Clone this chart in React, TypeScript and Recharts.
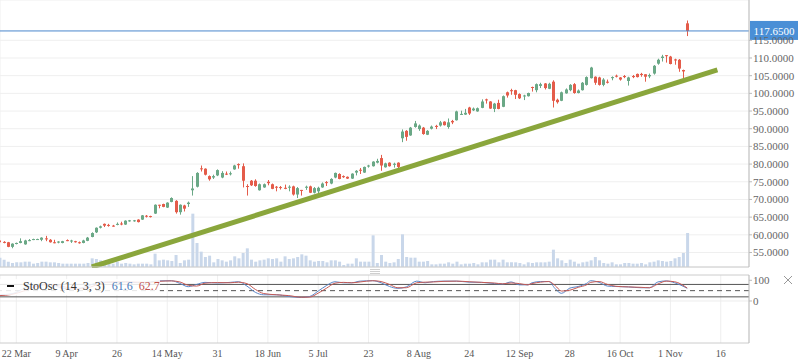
import React from 'react';
import { ComposedChart, Bar, Line, XAxis, YAxis, CartesianGrid, ReferenceLine } from 'recharts';

const tickIdx = [4, 16, 28, 40, 52, 64, 76, 88, 100, 112, 124, 136, 148, 160, 172];
const tickLabels = ['22 Mar', '9 Apr', '26', '14 May', '31', '18 Jun', '5 Jul', '23', '8 Aug', '24', '12 Sep', '28', '16 Oct', '1 Nov', '16'];

const opens = [58.4,58.0,57.9,56.6,57.4,57.7,57.3,58.3,58.6,58.7, 58.6,59.0,58.6,57.9,57.8,57.7,58.5,58.1,58.2,57.9, 57.7,58.3,59.4,60.7,62.0,63.1,62.8,62.6,62.8,63.2, 62.9,63.8,63.9,64.3,64.3,65.4,65.3,66.0,68.5,68.7, 67.7,69.3,69.6,66.4,68.3,68.7,72.6,73.6,78.8,78.7, 76.6,76.2,76.8,76.2,77.3,77.2,78.5,80.0,79.4,73.8, 75.3,75.3,72.6,73.4,75.0,74.3,73.6,73.5,73.3,73.4, 73.7,71.4,72.7,73.3,73.7,71.9,72.3,73.4,74.9,74.5, 76.2,77.2,76.6,76.4,75.9,77.6,78.4,77.6,79.3,79.4, 80.4,81.7,79.1,80.4,79.8,80.4,87.3,89.4,88.1,90.5, 89.9,90.3,88.3,90.0,90.8,90.9,92.0,90.5,92.2,92.4, 93.9,94.0,96.0,95.2,94.9,95.9,98.3,97.7,95.6,97.3, 96.2,100.3,100.9,100.9,99.8,99.2,99.2,101.8,100.9,102.1, 102.8,101.3,103.3,98.2,97.9,100.0,100.9,102.6,100.1,100.9, 102.4,104.3,104.7,104.5,102.4,103.3,104.3,105.0,104.5,104.9, 103.5,104.9,105.5,105.5,105.4,104.8,105.6,108.4,110.0,110.8, 110.4,109.6,109.5,106.6,119.8];
const highs = [58.5,58.2,58.0,57.6,57.8,59.0,58.6,58.8,58.9,58.9, 59.3,59.7,58.8,58.6,58.2,58.3,58.7,58.6,58.3,58.1, 58.6,59.4,60.7,62.1,62.6,63.2,63.1,62.8,63.5,63.7, 64.1,64.2,64.2,64.4,65.6,65.6,65.4,68.6,68.5,68.8, 69.2,70.6,69.8,68.6,68.5,69.4,76.6,77.7,79.6,78.8, 76.8,77.0,78.5,78.0,77.9,77.9,79.8,80.2,80.2,74.3, 75.5,75.7,74.5,74.5,75.5,74.5,73.8,73.8,74.2,74.0, 73.9,73.5,72.7,73.9,73.9,73.5,73.6,74.8,75.2,76.0, 77.6,77.4,76.8,76.5,77.4,78.3,78.9,79.3,79.8,80.8, 81.5,82.6,80.4,80.5,80.4,80.5,89.8,89.6,90.5,92.2, 91.2,90.5,89.6,90.9,91.1,92.2,92.1,92.9,92.5,95.1, 95.1,95.6,96.2,96.0,96.0,98.3,98.5,97.8,97.3,98.2, 99.4,100.5,101.3,101.0,100.0,99.6,100.2,101.9,102.8,103.0, 102.9,103.0,103.7,98.5,100.5,101.4,102.6,102.9,101.1,103.2, 104.8,107.5,104.8,104.7,104.3,103.9,104.8,105.3,104.6,105.2, 104.7,105.2,105.6,105.8,105.4,105.6,108.0,109.8,110.9,110.8, 110.6,109.8,109.7,106.7,120.6];
const lows = [57.8,57.6,56.5,56.2,57.3,57.6,57.2,58.2,58.5,58.6, 58.2,58.2,57.8,57.6,57.6,57.6,58.2,57.7,57.8,57.5, 57.6,58.2,59.3,60.5,61.8,62.2,62.3,62.3,62.7,62.7, 62.8,63.7,63.7,63.5,64.2,64.9,64.9,65.9,67.5,67.8, 67.6,69.2,66.0,65.7,66.6,67.9,71.1,73.4,77.9,76.8, 75.3,75.8,76.6,76.0,76.9,76.8,78.4,78.7,73.4,71.1, 73.8,73.6,72.5,73.3,74.0,72.9,72.3,72.8,72.9,72.3, 71.1,70.4,71.1,72.7,71.8,71.7,71.8,73.3,73.8,74.3, 76.0,75.7,76.1,75.8,75.8,76.8,77.2,77.5,79.0,79.3, 80.2,78.1,79.0,79.3,79.0,78.5,86.2,86.6,88.0,90.3, 89.4,88.3,88.2,89.8,89.9,90.6,90.9,90.0,91.3,92.3, 93.9,93.9,93.9,95.0,94.8,95.8,97.1,95.6,94.7,95.5, 96.1,98.8,99.6,98.4,98.4,98.1,99.1,100.5,100.3,101.5, 101.1,101.2,96.0,97.1,97.8,99.9,100.6,99.9,100.0,100.8, 102.2,104.2,102.4,102.2,102.0,102.8,103.7,104.5,103.6,104.3, 102.2,104.3,104.5,104.7,103.3,104.3,105.3,108.1,109.0,108.7, 108.2,108.1,106.1,103.9,116.2];
const closes = [57.9,57.8,56.6,57.5,57.7,58.2,58.4,58.5,58.8,58.8, 59.2,58.8,57.9,57.7,58.1,58.2,58.3,58.4,57.9,57.7, 58.4,59.2,60.5,62.0,62.4,62.6,62.6,62.4,63.1,63.0, 64.0,64.1,64.1,63.6,65.5,65.2,65.1,68.5,68.3,67.9, 69.1,70.4,66.4,68.5,67.4,69.1,73.1,77.5,78.6,77.0, 75.7,76.6,78.3,77.5,77.1,77.4,79.6,79.7,75.3,73.6, 74.0,73.8,74.3,74.3,74.6,73.0,73.4,73.3,73.0,73.6, 71.4,73.2,72.5,73.6,71.9,73.2,73.3,74.5,74.7,75.8, 77.5,75.8,76.3,75.9,77.3,78.1,78.2,79.2,79.6,80.7, 80.9,79.6,80.2,79.4,80.1,79.2,89.2,87.7,90.3,91.5, 90.9,88.5,89.4,90.6,90.5,91.8,91.0,91.8,91.8,94.9, 94.2,94.5,94.3,95.7,95.8,97.7,98.0,95.7,97.1,95.6, 99.2,99.4,100.6,99.6,98.6,99.4,100.1,101.6,102.6,102.6, 101.5,102.7,97.9,97.5,100.3,101.1,102.4,100.1,100.8,103.0, 104.6,107.3,103.0,102.4,103.9,103.0,104.6,104.8,103.9,104.6, 104.5,104.6,104.6,105.2,104.7,105.2,107.8,109.5,110.4,110.6, 108.3,109.3,107.0,106.2,117.65];
const volumes = [2.8,2.2,1.6,1.2,1.4,1.4,1.6,1.6,1.0,1.2, 1.6,1.6,1.4,1.4,1.2,1.0,1.0,1.0,1.0,1.0, 1.0,1.2,2.6,2.4,2.0,1.4,1.2,1.0,1.6,1.0, 1.2,1.0,0.8,1.0,1.0,1.0,0.8,4.0,2.0,2.2, 2.0,1.8,3.6,1.2,2.0,2.2,16.0,7.2,4.6,3.0, 3.4,1.4,2.4,2.0,1.6,2.0,3.2,2.6,4.2,5.6, 2.2,1.6,2.0,2.2,2.6,2.4,2.6,1.6,3.2,2.4, 2.6,3.0,3.8,3.4,2.0,1.6,1.8,1.8,1.4,2.0, 2.0,1.6,0.6,1.0,1.0,2.6,1.6,1.6,1.6,9.5, 1.2,3.6,1.6,1.2,1.4,2.4,9.8,3.0,2.8,2.8, 1.6,1.6,1.8,0.8,0.8,1.0,1.0,1.4,1.0,1.6, 0.8,1.0,1.0,1.2,0.8,1.4,1.4,2.2,2.2,1.4, 2.2,1.4,1.4,1.4,1.2,0.8,1.4,1.2,1.4,1.4, 1.4,1.6,5.2,2.6,2.0,1.2,2.2,1.6,1.0,1.4, 1.6,2.0,3.0,2.0,1.2,1.0,1.4,0.8,0.8,1.2, 1.2,1.0,1.0,1.2,0.8,1.4,1.6,2.0,1.8,1.6, 1.8,2.6,3.0,4.2,10.2];

const stochIdx = [0,3,6,9,12,15,18,21,24,27,30,33,36,38,41,43,45,47,49,52,55,57,59,61,63,66,69,72,74,76,78,80,82,84,86,89,91,93,95,97,99.5,101.5,103.5,106,109,112,115,118,120,122,124,126,127,129,131,132.5,134,136,138,140,141,143,145,147,150,153,155,157,159,161,164];
const stochK = [30,35,62,78,80,62,58,72,92,90,93,88,92,97,98,85,69,80,90,87,90,93,72,42,30,30,22,17,22,48,75,93,88,88,96,98,88,70,61,68,96,88,94,96,96,91,90,84,82,92,78,78,88,94,94,60,37,62,70,85,98,90,72,70,68,64,64,92,97,88,61.6];
const stochD = [26,32,50,72,80,70,60,64,84,92,92,91,90,95,97,92,76,72,86,89,88,91,84,56,36,30,26,18,19,38,62,86,90,88,92,98,94,80,64,64,88,91,92,95,96,93,90,87,83,87,84,78,84,91,94,75,48,52,66,78,90,94,80,71,68,66,64,82,96,93,62.7];

const trendStart = { k: 22, price: 50.9 };
const trendEnd = { k: 171.2, price: 106.64 };

const priceTicks = [55, 60, 65, 70, 75, 80, 85, 90, 95, 100, 105, 110, 115];

const candles = opens.map((o, i) => ({
  k: i,
  o,
  h: highs[i],
  l: lows[i],
  c: closes[i],
  range: [lows[i], highs[i]],
  vol: volumes[i],
}));
const stochData = stochIdx.map((k, i) => ({ k, K: stochK[i], D: stochD[i] }));
const lastClose = closes[closes.length - 1];

const GREEN = '#6aa886';
const RED = '#e45c4a';
const FONT = '"Liberation Serif", "Times New Roman", serif';
const X_DOMAIN: [number, number] = [0.11, 178.74];

const Candle = (props: any) => {
  const { x, y, width, height, payload } = props;
  if (x == null || y == null || !payload) return null;
  const { o, h, l, c } = payload;
  const up = c >= o;
  const color = up ? GREEN : RED;
  const top = Math.min(y, y + height);
  const full = Math.abs(height);
  const ratio = full / (h - l);
  const bodyTop = top + (h - Math.max(o, c)) * ratio;
  const bodyH = Math.max(1, Math.abs(o - c) * ratio);
  const bx = Math.round(x);
  const cx = bx + 1.5;
  return (
    <g>
      <line x1={cx} x2={cx} y1={top} y2={top + full} stroke={color} strokeWidth={1} />
      <rect x={bx} y={bodyTop} width={3} height={bodyH} fill={color} />
    </g>
  );
};

const PriceTag = (props: any) => {
  const vb = props.viewBox || {};
  const x = (vb.x || 0) + (vb.width || 0);
  const y = vb.y || 0;
  return (
    <g>
      <rect x={x + 1} y={y - 10} width={48} height={19} fill="#4a8fd6" />
      <text x={x + 25} y={y + 4} textAnchor="middle" fill="#ffffff" fontSize={11} fontFamily={FONT}>
        {lastClose.toFixed(4)}
      </text>
    </g>
  );
};

export default function App() {
  return (
    <div style={{ position: 'absolute', left: 0, top: 0, width: 798, height: 363, background: '#fff', fontFamily: FONT }}>
      <div style={{ position: 'absolute', left: 0, top: 0 }}>
        <ComposedChart width={798} height={268} data={candles} margin={{ top: 0, right: 0, bottom: 0, left: 0 }}>
          <XAxis xAxisId="p" type="number" dataKey="k" domain={X_DOMAIN} allowDataOverflow ticks={tickIdx} interval={0}
            height={1} tick={false} tickLine={false} axisLine={{ stroke: '#cccccc' }} />
          <XAxis xAxisId="v" type="number" dataKey="k" domain={X_DOMAIN} allowDataOverflow hide />
          <YAxis yAxisId="price" orientation="right" width={49} domain={[50.9, 126.4]} allowDataOverflow ticks={priceTicks}
            interval={0} tickFormatter={(v: number) => v.toFixed(4)} tickSize={3} tickMargin={1}
            tick={{ fill: '#666', fontSize: 11, fontFamily: FONT }} axisLine={{ stroke: '#bbbbbb' }} tickLine={{ stroke: '#bbbbbb' }} />
          <YAxis yAxisId="vol" hide domain={[0, 80.1]} allowDataOverflow />
          <CartesianGrid xAxisId="p" yAxisId="price" stroke="#efefef" />
          <Bar xAxisId="v" yAxisId="vol" dataKey="vol" fill="#c9d7ea" barSize={3} isAnimationActive={false} />
          <Bar xAxisId="p" yAxisId="price" dataKey="range" barSize={3} shape={Candle} isAnimationActive={false} />
          <ReferenceLine xAxisId="p" yAxisId="price"
            segment={[{ x: trendStart.k, y: trendStart.price }, { x: trendEnd.k, y: trendEnd.price }]}
            stroke="#8aa63c" strokeWidth={5} ifOverflow="visible" />
          <ReferenceLine xAxisId="p" yAxisId="price" y={lastClose} stroke="#4a86cc" strokeWidth={1}
            label={<PriceTag />} />
        </ComposedChart>
      </div>
      <div style={{ position: 'absolute', left: 0, top: 268 }}>
        <ComposedChart width={798} height={95} data={stochData} margin={{ top: 7, right: 0, bottom: 0, left: 0 }}>
          <XAxis type="number" dataKey="k" domain={X_DOMAIN} allowDataOverflow ticks={tickIdx} interval={0}
            tickFormatter={(v: number) => tickLabels[tickIdx.indexOf(v)] || ''} height={20} tickSize={0} tickMargin={7}
            tick={{ fill: '#555', fontSize: 10, fontFamily: FONT }} axisLine={{ stroke: '#cccccc' }} />
          <YAxis orientation="right" width={49} domain={[-203, 125.6]} allowDataOverflow ticks={[0, 100]} interval={0}
            tickSize={3} tickMargin={1} tick={{ fill: '#666', fontSize: 11, fontFamily: FONT }}
            axisLine={{ stroke: '#bbbbbb' }} tickLine={{ stroke: '#bbbbbb' }} />
          <CartesianGrid horizontal={false} stroke="#efefef" />
          <ReferenceLine y={125.6} stroke="#cccccc" ifOverflow="visible" />
          <ReferenceLine y={0} stroke="#ececec" />
          <ReferenceLine y={80} stroke="#555" />
          <ReferenceLine y={20} stroke="#555" />
          <ReferenceLine y={50} stroke="#555" strokeDasharray="5 4" />
          <Line type="monotone" dataKey="K" stroke="#5a86c8" strokeWidth={1} dot={false} isAnimationActive={false} />
          <Line type="monotone" dataKey="D" stroke="#c55a55" strokeWidth={1} dot={false} isAnimationActive={false} />
        </ComposedChart>
      </div>
      <div style={{ position: 'absolute', left: 0, top: 279, width: 160, height: 16, background: 'rgba(255,255,255,0.85)' }} />
      <div style={{ position: 'absolute', left: 7, top: 285, width: 7, height: 2, background: '#111' }} />
      <div style={{ position: 'absolute', left: 23, top: 279, fontSize: 12, lineHeight: '15px', color: '#333', whiteSpace: 'nowrap' }}>
        StoOsc (14, 3, 3)
        <span style={{ color: '#4a78b8', marginLeft: 7 }}>{stochK[stochK.length - 1].toFixed(1)}</span>
        <span style={{ color: '#c0504d', marginLeft: 6 }}>{stochD[stochD.length - 1].toFixed(1)}</span>
      </div>
      <svg style={{ position: 'absolute', left: 0, top: 0 }} width={798} height={363} pointerEvents="none">
        <line x1={370} x2={380} y1={269.5} y2={269.5} stroke="#cfcfcf" />
        <line x1={370} x2={380} y1={271.5} y2={271.5} stroke="#cfcfcf" />
        <line x1={370} x2={380} y1={273.5} y2={273.5} stroke="#cfcfcf" />
        <line x1={784} x2={792} y1={276} y2={284} stroke="#999" />
        <line x1={792} x2={784} y1={276} y2={284} stroke="#999" />
      </svg>
    </div>
  );
}
